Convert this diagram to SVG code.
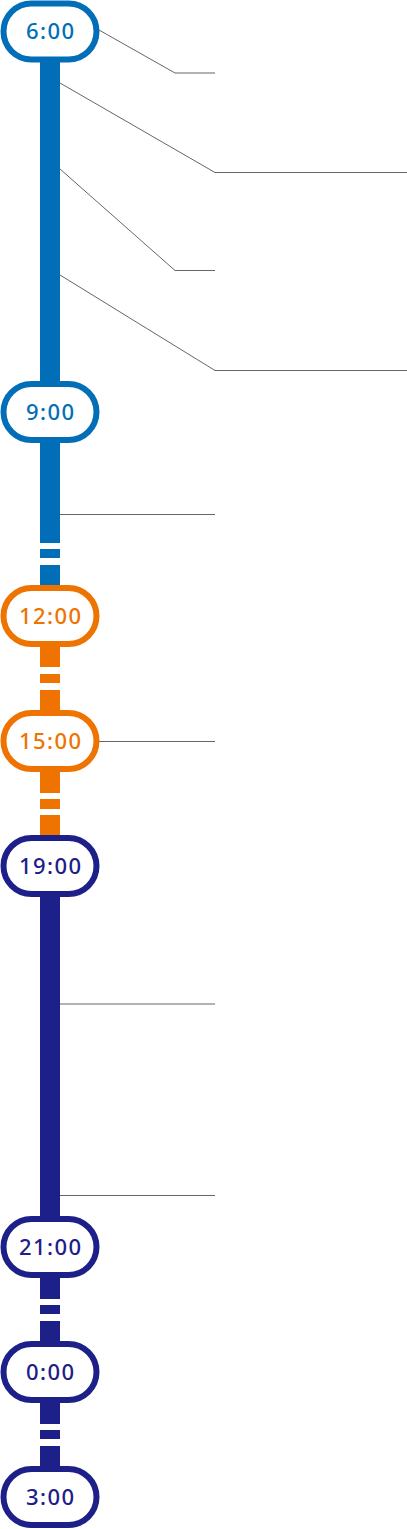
<svg xmlns="http://www.w3.org/2000/svg" width="407" height="1529" viewBox="0 0 407 1529">
<style>
.pill{fill:#fff;stroke-width:6}
.t{font-family:"Noto Sans","Open Sans",sans-serif;font-size:22px;font-weight:500;letter-spacing:1.5px;text-anchor:middle}
.b{stroke:#036EB8}.bf{fill:#036EB8}
.o{stroke:#EE7300}.of{fill:#EE7300}
.n{stroke:#1D2088}.nf{fill:#1D2088}
.ln{fill:none;stroke:#666;stroke-width:1}
</style>
<rect width="407" height="1529" fill="#fff"/>
<g id="bars">
<rect class="bf" x="40" y="31" width="20" height="381"/>
<rect class="bf" x="40" y="412" width="20" height="131"/>
<rect class="bf" x="40" y="549" width="20" height="9"/>
<rect class="bf" x="40" y="565" width="20" height="51"/>
<rect class="of" x="40" y="616" width="20" height="51"/>
<rect class="of" x="40" y="674" width="20" height="9"/>
<rect class="of" x="40" y="690" width="20" height="103"/>
<rect class="of" x="40" y="799" width="20" height="10"/>
<rect class="of" x="40" y="815" width="20" height="51"/>
<rect class="nf" x="40" y="866" width="20" height="433"/>
<rect class="nf" x="40" y="1305" width="20" height="9"/>
<rect class="nf" x="40" y="1321" width="20" height="103"/>
<rect class="nf" x="40" y="1430" width="20" height="9"/>
<rect class="nf" x="40" y="1446" width="20" height="51"/>
</g>
<g id="connectors">
<polyline class="ln" points="99,30 175,73 215,73"/>
<polyline class="ln" points="60,83 215,172.5 407,172.5"/>
<polyline class="ln" points="60,169 175,270.5 215,270.5"/>
<polyline class="ln" points="60,275 215,370.5 407,370.5"/>
<line class="ln" x1="60" y1="514.5" x2="215" y2="514.5"/>
<line class="ln" x1="99" y1="741.5" x2="215" y2="741.5"/>
<line class="ln" x1="60" y1="1004" x2="215" y2="1004"/>
<line class="ln" x1="60" y1="1195.5" x2="215" y2="1195.5"/>
</g>
<g id="n600"><rect class="pill b" x="3.5" y="3.5" width="93" height="56" rx="28"/><text class="t bf" x="50.8" y="39">6:00</text></g>
<g id="n900"><rect class="pill b" x="3.5" y="384" width="93" height="56" rx="28"/><text class="t bf" x="50.8" y="419.5">9:00</text></g>
<g id="n1200"><rect class="pill o" x="3.5" y="588" width="93" height="56" rx="28"/><text class="t of" x="50.8" y="623.5">12:00</text></g>
<g id="n1500"><rect class="pill o" x="3.5" y="713" width="93" height="56" rx="28"/><text class="t of" x="50.8" y="748.5">15:00</text></g>
<g id="n1900"><rect class="pill n" x="3.5" y="838" width="93" height="56" rx="28"/><text class="t nf" x="50.8" y="873.5">19:00</text></g>
<g id="n2100"><rect class="pill n" x="3.5" y="1219" width="93" height="56" rx="28"/><text class="t nf" x="50.8" y="1254.5">21:00</text></g>
<g id="n000"><rect class="pill n" x="3.5" y="1344" width="93" height="56" rx="28"/><text class="t nf" x="50.8" y="1379.5">0:00</text></g>
<g id="n300"><rect class="pill n" x="3.5" y="1469" width="93" height="56" rx="28"/><text class="t nf" x="50.8" y="1504.5">3:00</text></g>
</svg>
